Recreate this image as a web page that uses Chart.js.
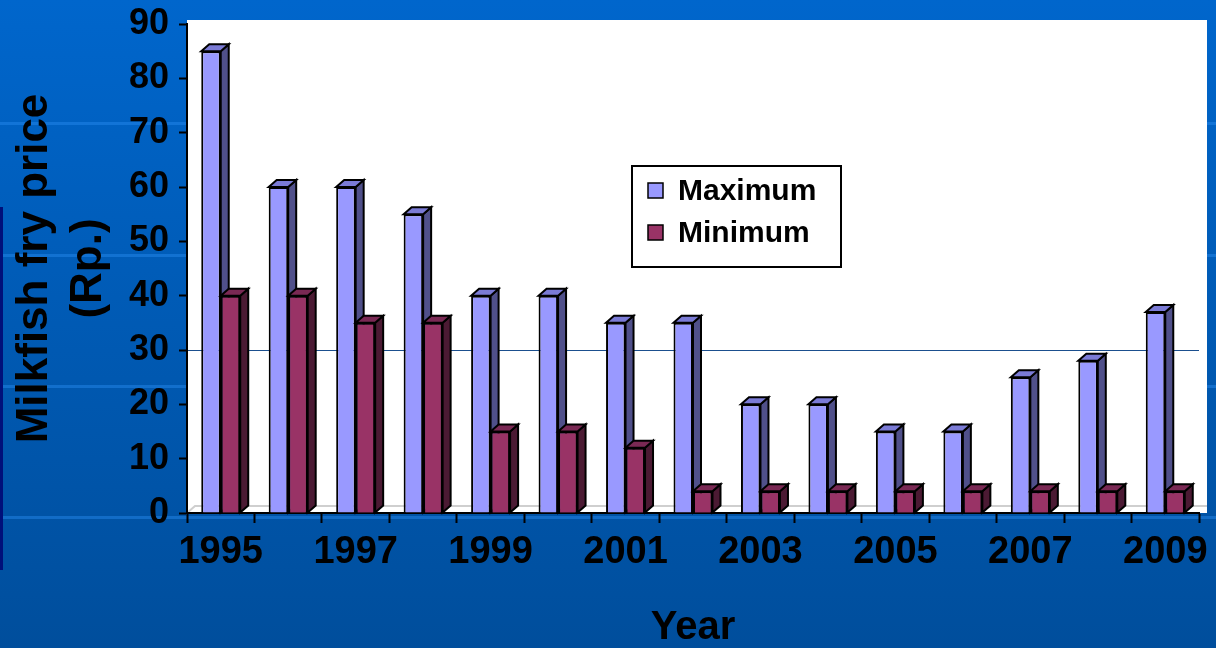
<!DOCTYPE html>
<html>
<head>
<meta charset="utf-8">
<script src="https://cdn.jsdelivr.net/npm/chart.js@4.4.1/dist/chart.umd.min.js"></script>
<style>
  html, body { margin: 0; padding: 0; background: #0059b3; overflow: hidden; }
  #wrap { width: 1216px; height: 648px; }
</style>
</head>
<body>
<div id="wrap"><canvas id="priceChart" width="1216" height="648"></canvas></div>
<script>
// values (Rp.)
const years = ['1995', '1996', '1997', '1998', '1999', '2000', '2001', '2002',
               '2003', '2004', '2005', '2006', '2007', '2008', '2009'];
const maximumPrice = [85, 60, 60, 55, 40, 40, 35, 35, 20, 20, 15, 15, 25, 28, 37];
const minimumPrice = [40, 40, 35, 35, 15, 15, 12, 4, 4, 4, 4, 4, 4, 4, 4];
const yTicks = [0, 10, 20, 30, 40, 50, 60, 70, 80, 90];

const FONT = "'Liberation Sans', Arial, sans-serif";
const DX = 8, DY = 7;   // depth of the fake 3d bars
const faces = [
    { top: '#7b7bd6', side: '#50508a' },
    { top: '#7a2954', side: '#4b1a33' }
];

// slide background + white plot wall
const slideBg = {
    id: 'slideBg',
    beforeDraw(chart) {
        const { ctx, width, height, chartArea: a } = chart;
        ctx.save();
        const g = ctx.createLinearGradient(0, 0, 0, height);
        g.addColorStop(0, '#0066cc');
        g.addColorStop(1, '#004e9c');
        ctx.fillStyle = g;
        ctx.fillRect(0, 0, width, height);
        ctx.fillStyle = 'rgba(40,140,240,0.45)';
        [123, 255, 386, 517].forEach(y => ctx.fillRect(0, y - 1, width, 3));
        ctx.fillStyle = '#00107a';
        ctx.fillRect(0, 207, 3, 363);
        ctx.fillStyle = '#fff';
        ctx.fillRect(a.left, a.top - 4, a.right - a.left + DX, a.bottom - a.top + 4);
        ctx.strokeStyle = '#cfcfcf';
        ctx.lineWidth = 2;
        ctx.beginPath();
        ctx.moveTo(a.left, a.bottom);
        ctx.lineTo(a.left + DX, a.bottom - DY);
        ctx.lineTo(a.right + DX, a.bottom - DY);
        ctx.stroke();
        ctx.restore();
    }
};

function drawFaces(ctx, meta, c) {
    ctx.save();
    ctx.lineWidth = 2;
    ctx.strokeStyle = '#000';
    meta.data.forEach(bar => {
        const { x, y, base, width } = bar.getProps(['x', 'y', 'base', 'width'], true);
        const l = x - width / 2, r = x + width / 2;
        ctx.beginPath();
        ctx.moveTo(r, y); ctx.lineTo(r + DX, y - DY);
        ctx.lineTo(r + DX, base - DY); ctx.lineTo(r, base);
        ctx.closePath();
        ctx.fillStyle = c.side; ctx.fill(); ctx.stroke();
        ctx.beginPath();
        ctx.moveTo(l, y); ctx.lineTo(l + DX, y - DY);
        ctx.lineTo(r + DX, y - DY); ctx.lineTo(r, y);
        ctx.closePath();
        ctx.fillStyle = c.top; ctx.fill(); ctx.stroke();
    });
    ctx.restore();
}

// max faces first, then the minimum bars again so they sit in front
const bar3d = {
    id: 'bar3d',
    afterDatasetsDraw(chart) {
        const ctx = chart.ctx;
        const maxMeta = chart.getDatasetMeta(0), minMeta = chart.getDatasetMeta(1);
        drawFaces(ctx, maxMeta, faces[0]);
        minMeta.data.forEach(el => el.draw(ctx, chart.chartArea));
        drawFaces(ctx, minMeta, faces[1]);
    }
};

const boxLegend = {
    id: 'boxLegend',
    afterDraw(chart) {
        const ctx = chart.ctx;
        ctx.save();
        ctx.fillStyle = '#fff';
        ctx.fillRect(632, 166, 209, 101);
        ctx.lineWidth = 2;
        ctx.strokeStyle = '#000';
        ctx.strokeRect(632, 166, 209, 101);
        ctx.font = 'bold 30px ' + FONT;
        ctx.textBaseline = 'middle';
        chart.data.datasets.forEach((ds, i) => {
            const cy = 191 + i * 42;
            ctx.fillStyle = ds.backgroundColor;
            ctx.fillRect(648, cy - 8, 15, 15);
            ctx.lineWidth = 1.5;
            ctx.strokeRect(648, cy - 8, 15, 15);
            ctx.fillStyle = '#000';
            ctx.fillText(ds.label, 678, cy + 1);
        });
        ctx.restore();
    }
};

new Chart(document.getElementById('priceChart'), {
    type: 'bar',
    data: {
        labels: years,
        datasets: [
            { label: 'Maximum', data: maximumPrice, backgroundColor: '#9999ff',
              borderColor: '#000', borderWidth: 2, barPercentage: 1, categoryPercentage: 0.578 },
            { label: 'Minimum', data: minimumPrice, backgroundColor: '#993366',
              borderColor: '#000', borderWidth: 2, barPercentage: 1, categoryPercentage: 0.578 }
        ]
    },
    options: {
        responsive: false,
        animation: false,
        layout: { padding: { top: 24, right: 17, left: 0, bottom: 0 } },
        plugins: { legend: { display: false }, tooltip: { enabled: false } },
        scales: {
            x: {
                afterFit: s => { s.height = 135; },
                border: { color: '#000', width: 2 },
                grid: { drawOnChartArea: false, tickColor: '#000', tickWidth: 2, tickLength: 10 },
                ticks: {
                    autoSkip: false, maxRotation: 0, padding: 7, color: '#000',
                    font: { family: FONT, size: 38, weight: 'bold' },
                    callback: (v, i) => (i % 2 === 0 ? years[i] : '')
                },
                title: {
                    display: true, text: 'Year', color: '#000',
                    font: { family: FONT, size: 40, weight: 'bold', lineHeight: 1 },
                    padding: { top: 0, bottom: 0 }
                }
            },
            y: {
                min: 0, max: 90,
                afterFit: s => { s.width = 187; s.paddingTop = 0; s.paddingBottom = 0; },
                afterBuildTicks: s => { s.ticks = yTicks.map(v => ({ value: v })); },
                border: { color: '#000', width: 2 },
                grid: {
                    color: c => (c.tick && c.tick.value === 30 ? '#1b4f8e' : 'rgba(0,0,0,0)'),
                    lineWidth: 1, tickColor: '#000', tickWidth: 2, tickLength: 8
                },
                ticks: { padding: 10, color: '#000', font: { family: FONT, size: 36, weight: 'bold' } },
                title: {
                    display: true, text: ['Milkfish fry price', '(Rp.)'], color: '#000',
                    font: { family: FONT, size: 44, weight: 'bold', lineHeight: 1.22 },
                    padding: { top: 8, bottom: 0 }
                }
            }
        }
    },
    plugins: [slideBg, bar3d, boxLegend]
});
</script>
</body>
</html>
